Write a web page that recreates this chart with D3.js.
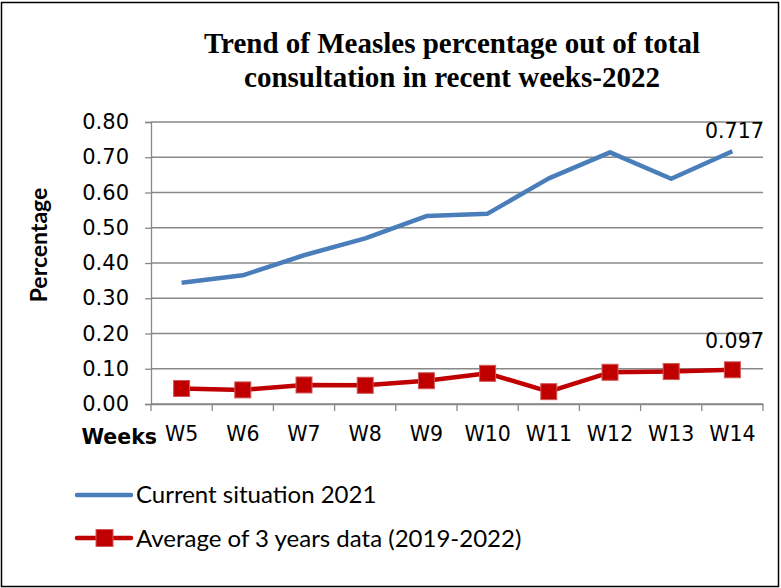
<!DOCTYPE html>
<html>
<head>
<meta charset="utf-8">
<script src="https://cdn.jsdelivr.net/npm/d3@7"></script>
<style>
  body { margin: 0; background: #fff; }
  svg { display: block; }
</style>
</head>
<body>
<svg id="chart" width="781" height="588"></svg>
<script>
var w = 781;
var h = 588;
var margin = { top: 122, right: 18, bottom: 184, left: 151 };

var weeks = ["W5", "W6", "W7", "W8", "W9", "W10", "W11", "W12", "W13", "W14"];
var current2021 = [0.344, 0.365, 0.422, 0.470, 0.533, 0.540, 0.640, 0.714, 0.639, 0.717];
var avg3years = [0.044, 0.040, 0.054, 0.053, 0.066, 0.087, 0.035, 0.090, 0.092, 0.097];
var yTicks = [0, 0.1, 0.2, 0.3, 0.4, 0.5, 0.6, 0.7, 0.8];
var seriesNames = ["Current situation 2021", "Average of 3 years data (2019-2022)"];

var numFont = "'DejaVu Sans', sans-serif";
var textFont = "Lato, 'Open Sans', sans-serif";
var gridColor = "#888888";

var svg = d3.select("#chart");

// outer frame
svg.append("rect")
  .attr("x", 1.5).attr("y", 2.5)
  .attr("width", w - 4).attr("height", h - 4)
  .attr("fill", "#fff")
  .attr("stroke", "#000")
  .attr("stroke-width", 1.5);

var xScale = d3.scaleBand()
  .domain(weeks)
  .range([margin.left, w - margin.right]);

var yScale = d3.scaleLinear()
  .domain([0, 0.8])
  .range([h - margin.bottom, margin.top]);

// gridlines
svg.append("g")
  .selectAll("line")
  .data(yTicks)
  .enter()
  .append("line")
  .attr("x1", margin.left)
  .attr("x2", w - margin.right)
  .attr("y1", function(d) { return yScale(d); })
  .attr("y2", function(d) { return yScale(d); })
  .attr("stroke", gridColor)
  .attr("stroke-width", 1.3);

// y axis
svg.append("g")
  .attr("transform", "translate(" + margin.left + ",0)")
  .call(d3.axisLeft(yScale)
    .tickValues(yTicks)
    .tickSize(6)
    .tickPadding(16)
    .tickFormat(d3.format(".2f")))
  .call(function(g) {
    g.select(".domain").attr("stroke", gridColor).attr("stroke-width", 1.3);
    g.selectAll(".tick line").attr("stroke", gridColor).attr("stroke-width", 1.3);
    g.selectAll("text")
      .attr("fill", "#000")
      .style("font", "21px " + numFont);
  });

// x axis
var xAxis = svg.append("g")
  .attr("transform", "translate(0," + yScale(0) + ")")
  .call(d3.axisBottom(xScale).tickSize(0).tickPadding(22))
  .call(function(g) {
    g.select(".domain").attr("stroke", gridColor).attr("stroke-width", 1.3);
    g.selectAll("text")
      .attr("fill", "#000")
      .style("font", "20.5px " + numFont);
  });

// boundary tick marks between categories
var bounds = weeks.map(function(d) { return xScale(d); }).concat([xScale.range()[1]]);
xAxis.selectAll(".bound")
  .data(bounds)
  .enter()
  .append("line")
  .attr("x1", function(d) { return d; })
  .attr("x2", function(d) { return d; })
  .attr("y1", 0)
  .attr("y2", 7)
  .attr("stroke", gridColor)
  .attr("stroke-width", 1.3);

svg.append("text")
  .attr("x", 157)
  .attr("y", 444)
  .attr("text-anchor", "end")
  .style("font", "bold 20.5px " + numFont)
  .text("Weeks");

svg.append("text")
  .attr("transform", "translate(47,245) rotate(-90)")
  .attr("text-anchor", "middle")
  .style("font", "bold 23px " + textFont)
  .text("Percentage");

// title
svg.append("g")
  .selectAll("text")
  .data(["Trend of Measles percentage out of total", "consultation in recent weeks-2022"])
  .enter()
  .append("text")
  .attr("x", 452)
  .attr("y", function(d, i) { return 53 + i * 34; })
  .attr("text-anchor", "middle")
  .style("font", "bold 29px 'Liberation Serif', 'Times New Roman', serif")
  .text(function(d) { return d; });

var line = d3.line()
  .x(function(d, i) { return xScale(weeks[i]) + xScale.bandwidth() / 2; })
  .y(function(d) { return yScale(d); });

svg.append("path")
  .datum(current2021)
  .attr("fill", "none")
  .attr("stroke", "#4a7ebb")
  .attr("stroke-width", 4.5)
  .attr("stroke-linejoin", "round")
  .attr("d", line);

svg.append("path")
  .datum(avg3years)
  .attr("fill", "none")
  .attr("stroke", "#c00000")
  .attr("stroke-width", 4.5)
  .attr("stroke-linejoin", "round")
  .attr("d", line);

svg.append("g")
  .selectAll("rect")
  .data(avg3years)
  .enter()
  .append("rect")
  .attr("x", function(d, i) { return xScale(weeks[i]) + xScale.bandwidth() / 2 - 8; })
  .attr("y", function(d) { return yScale(d) - 8; })
  .attr("width", 16)
  .attr("height", 16)
  .attr("fill", "#c00000")
  .attr("stroke", "#d05858")
  .attr("stroke-width", 1);

// data labels on last points
var last = weeks.length - 1;
var labelOffsets = [-13, -22];
[current2021, avg3years].forEach(function(s, k) {
  svg.append("text")
    .attr("x", xScale(weeks[last]) + xScale.bandwidth() / 2 + 2)
    .attr("y", yScale(s[last]) + labelOffsets[k])
    .attr("text-anchor", "middle")
    .style("font", "20.5px " + numFont)
    .text(d3.format(".3f")(s[last]));
});

// legend
var legend = svg.append("g").attr("transform", "translate(77,495)");
legend.append("line")
  .attr("x1", 0).attr("x2", 54).attr("y1", 0).attr("y2", 0)
  .attr("stroke", "#4a7ebb").attr("stroke-width", 4.5).attr("stroke-linecap", "round");
legend.append("text")
  .attr("x", 59).attr("y", 8)
  .style("font", "24px " + textFont)
  .text(seriesNames[0]);

var legend2 = svg.append("g").attr("transform", "translate(77,538)");
legend2.append("line")
  .attr("x1", 0).attr("x2", 54).attr("y1", 0).attr("y2", 0)
  .attr("stroke", "#c00000").attr("stroke-width", 4.5).attr("stroke-linecap", "round");
legend2.append("rect")
  .attr("x", 19).attr("y", -8.5).attr("width", 17).attr("height", 17)
  .attr("fill", "#c00000").attr("stroke", "#d05858");
legend2.append("text")
  .attr("x", 59).attr("y", 9)
  .style("font", "24px " + textFont)
  .text(seriesNames[1]);
</script>
</body>
</html>
